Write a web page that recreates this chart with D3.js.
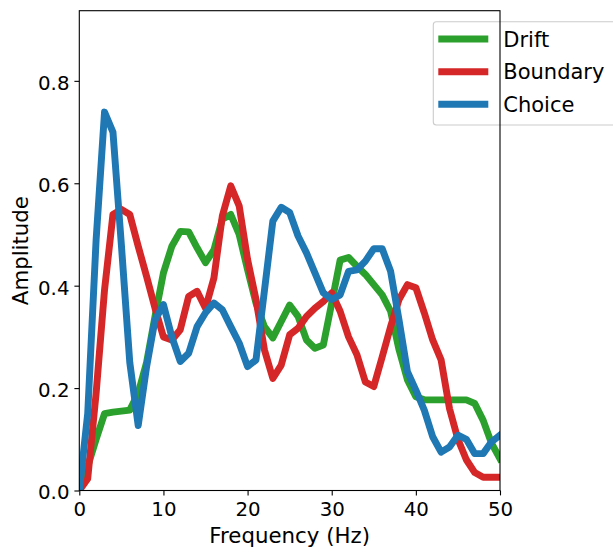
<!DOCTYPE html>
<html>
<head>
<meta charset="utf-8">
<script src="https://cdn.jsdelivr.net/npm/d3@7"></script>
<style>
  html, body { margin: 0; padding: 0; background: #fff; }
  svg { display: block; font-family: "DejaVu Sans", sans-serif; }
</style>
</head>
<body>
<svg id="chart" width="613" height="547"></svg>
<script>
const frequencies = [0,1,2,3,4,5,6,7,8,9,10,11,12,13,14,15,16,17,18,19,20,21,22,23,24,25,26,27,28,29,30,31,32,33,34,35,36,37,38,39,40,41,42,43,44,45,46,47,48,49,50];
const drift = [0,0.047,0.10,0.15,0.153,0.155,0.157,0.19,0.25,0.34,0.425,0.477,0.506,0.505,0.474,0.445,0.47,0.53,0.539,0.50,0.431,0.366,0.32,0.298,0.33,0.362,0.34,0.294,0.278,0.284,0.366,0.45,0.455,0.438,0.422,0.402,0.382,0.35,0.275,0.216,0.183,0.177,0.177,0.177,0.177,0.177,0.177,0.17,0.137,0.092,0.062];
const boundary = [0,0.023,0.19,0.392,0.539,0.549,0.539,0.477,0.418,0.356,0.30,0.294,0.314,0.379,0.389,0.356,0.415,0.536,0.595,0.556,0.451,0.373,0.275,0.219,0.245,0.304,0.317,0.34,0.356,0.369,0.386,0.35,0.30,0.265,0.212,0.203,0.261,0.32,0.373,0.402,0.396,0.347,0.294,0.255,0.16,0.10,0.06,0.035,0.026,0.026,0.026];
const choice = [0,0.15,0.49,0.739,0.70,0.48,0.25,0.127,0.242,0.333,0.363,0.30,0.252,0.268,0.32,0.347,0.366,0.353,0.32,0.288,0.242,0.255,0.39,0.526,0.553,0.543,0.497,0.464,0.425,0.386,0.373,0.382,0.428,0.431,0.448,0.472,0.472,0.428,0.333,0.232,0.196,0.157,0.105,0.075,0.085,0.108,0.10,0.072,0.072,0.095,0.108];
const seriesNames = ["Drift", "Boundary", "Choice"];
const seriesColors = ["#2ca02c", "#d62728", "#1f77b4"];
const xTicks = [0,10,20,30,40,50];
const yTicks = [0.0,0.2,0.4,0.6,0.8];

const seriesValues = [drift, boundary, choice];
const svg = d3.select("#chart");
const L = 79.3, R = 500, T = 10.7, B = 490.5;
const tickFont = 19.8, labelFont = 21.3, legendFont = 21;

const x = d3.scaleLinear().domain([0, 50]).range([L, R]);
const y = d3.scaleLinear().domain([0, 0.937]).range([B, T]);

svg.append("defs").append("clipPath").attr("id", "plotclip")
  .append("rect").attr("x", L).attr("y", T).attr("width", R - L).attr("height", B - T);

// lines
const line = d3.line().x((d, i) => x(frequencies[i])).y(d => y(d));
const plot = svg.append("g").attr("clip-path", "url(#plotclip)");
seriesValues.forEach((vals, k) => {
  plot.append("path")
    .datum(vals)
    .attr("d", line)
    .attr("fill", "none")
    .attr("stroke", seriesColors[k])
    .attr("stroke-width", 6.94)
    .attr("stroke-linejoin", "round")
    .attr("stroke-linecap", "square");
});

// axes
const xAxis = d3.axisBottom(x).tickValues(xTicks).tickFormat(d3.format("d"))
  .tickSize(4.9).tickPadding(4.9).tickSizeOuter(0);
const yAxis = d3.axisLeft(y).tickValues(yTicks).tickFormat(d3.format(".1f"))
  .tickSize(4.9).tickPadding(4.9).tickSizeOuter(0);

const gx = svg.append("g").attr("transform", `translate(0,${B})`).call(xAxis);
const gy = svg.append("g").attr("transform", `translate(${L},0)`).call(yAxis);
[gx, gy].forEach(g => {
  g.select(".domain").remove();
  g.selectAll(".tick line").attr("stroke", "#000").attr("stroke-width", 1.1);
  g.selectAll(".tick text").attr("fill", "#000").attr("font-size", tickFont)
    .attr("font-family", "DejaVu Sans, sans-serif");
});
gx.selectAll(".tick text").attr("dy", "0.8em");
gy.selectAll(".tick text").attr("dy", "0.42em");

// legend background
const lg = svg.append("g");
lg.append("rect")
  .attr("x", 433.3).attr("y", 21.7).attr("width", 200).attr("height", 103.3)
  .attr("rx", 3).attr("ry", 3)
  .attr("fill", "#fff").attr("fill-opacity", 0.8)
  .attr("stroke", "#cccccc").attr("stroke-width", 1.1);

// frame (spines)
svg.append("rect")
  .attr("x", L).attr("y", T).attr("width", R - L).attr("height", B - T)
  .attr("fill", "none").attr("stroke", "#000").attr("stroke-width", 1.1);

// legend entries
const rowY = [39, 71.7, 104.3];
seriesNames.forEach((name, k) => {
  lg.append("line")
    .attr("x1", 438.3).attr("x2", 488.3)
    .attr("y1", rowY[k]).attr("y2", rowY[k])
    .attr("stroke", seriesColors[k]).attr("stroke-width", 6.94);
  lg.append("text")
    .attr("x", 503.3).attr("y", rowY[k]).attr("dy", "0.37em")
    .attr("font-size", legendFont).attr("fill", "#000")
    .text(name);
});

// axis labels
svg.append("text")
  .attr("x", (L + R) / 2).attr("y", 535).attr("dy", "0.36em")
  .attr("text-anchor", "middle").attr("font-size", labelFont)
  .text("Frequency (Hz)");
svg.append("text")
  .attr("transform", `translate(20,${(T + B) / 2}) rotate(-90)`)
  .attr("dy", "0.36em")
  .attr("text-anchor", "middle").attr("font-size", labelFont)
  .text("Amplitude");
</script>
</body>
</html>
